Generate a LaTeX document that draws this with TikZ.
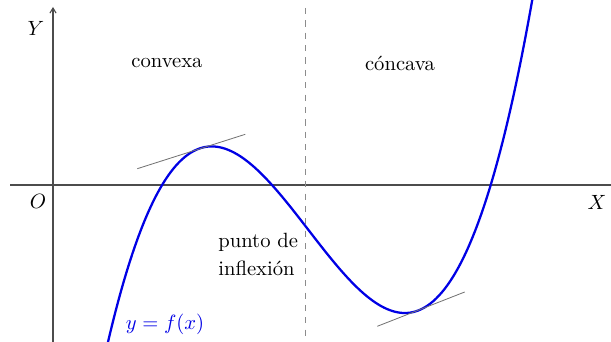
\documentclass[tikz,border=0pt]{standalone}
\usetikzlibrary{arrows.meta}
\begin{document}
\begin{tikzpicture}[x=0.485pt,y=-0.485pt,
  axis/.style={draw=black!70,line width=0.5pt},
  guide/.style={draw=black!45,dashed,line width=0.4pt},
  tang/.style={draw=black!55,line width=0.4pt},
  curve/.style={draw=blue!90!black,line width=1.1pt},
  lbl/.style={inner sep=0pt,font=\normalsize}]
\useasboundingbox (0,0) rectangle (611,342);
% axes
\coordinate (xl) at (10,185);
\coordinate (xr) at (611,185);
\coordinate (yb) at (53,342);
\coordinate (yt) at (53,7);
\draw[axis] (xl) -- (xr);
\draw[axis,-{Straight Barb[length=2.5pt,width=3pt]}] (yb) -- (yt);
% dashed inflection line
\coordinate (dt) at (305,8);
\coordinate (db) at (305,342);
\draw[guide] (dt) -- (db);
% curve
\begin{scope}
\clip (0,0) rectangle (611,342);
\draw[curve,domain=104:534,samples=150,smooth,variable=\t]
  plot (\t,{185-46.24*(\t/100-2.72)*(\t/100-4.907)*(\t/100-1.621)});
\end{scope}
% tangents
\coordinate (t1a) at (137.3,168.7);
\coordinate (t1b) at (245.3,134.3);
\coordinate (t2a) at (377.3,326.3);
\coordinate (t2b) at (464.7,292);
\draw[tang] (t1a) -- (t1b);
\draw[tang] (t2a) -- (t2b);
% labels
\node[lbl] (Y) at (36,28) {$Y$};
\node[lbl] (O) at (38,201) {$O$};
\node[lbl] (X) at (597,202) {$X$};
\node[lbl] (cvx) at (167,63) {convexa};
\node[lbl] (ccv) at (400,63) {cóncava};
\node[lbl,anchor=west,align=left] (pi) at (218,254.5) {punto de\\[2pt]inflexión};
\node[lbl,text=blue!90!black] (fx) at (165,324) {$y=f(x)$};
\end{tikzpicture}
\end{document}
